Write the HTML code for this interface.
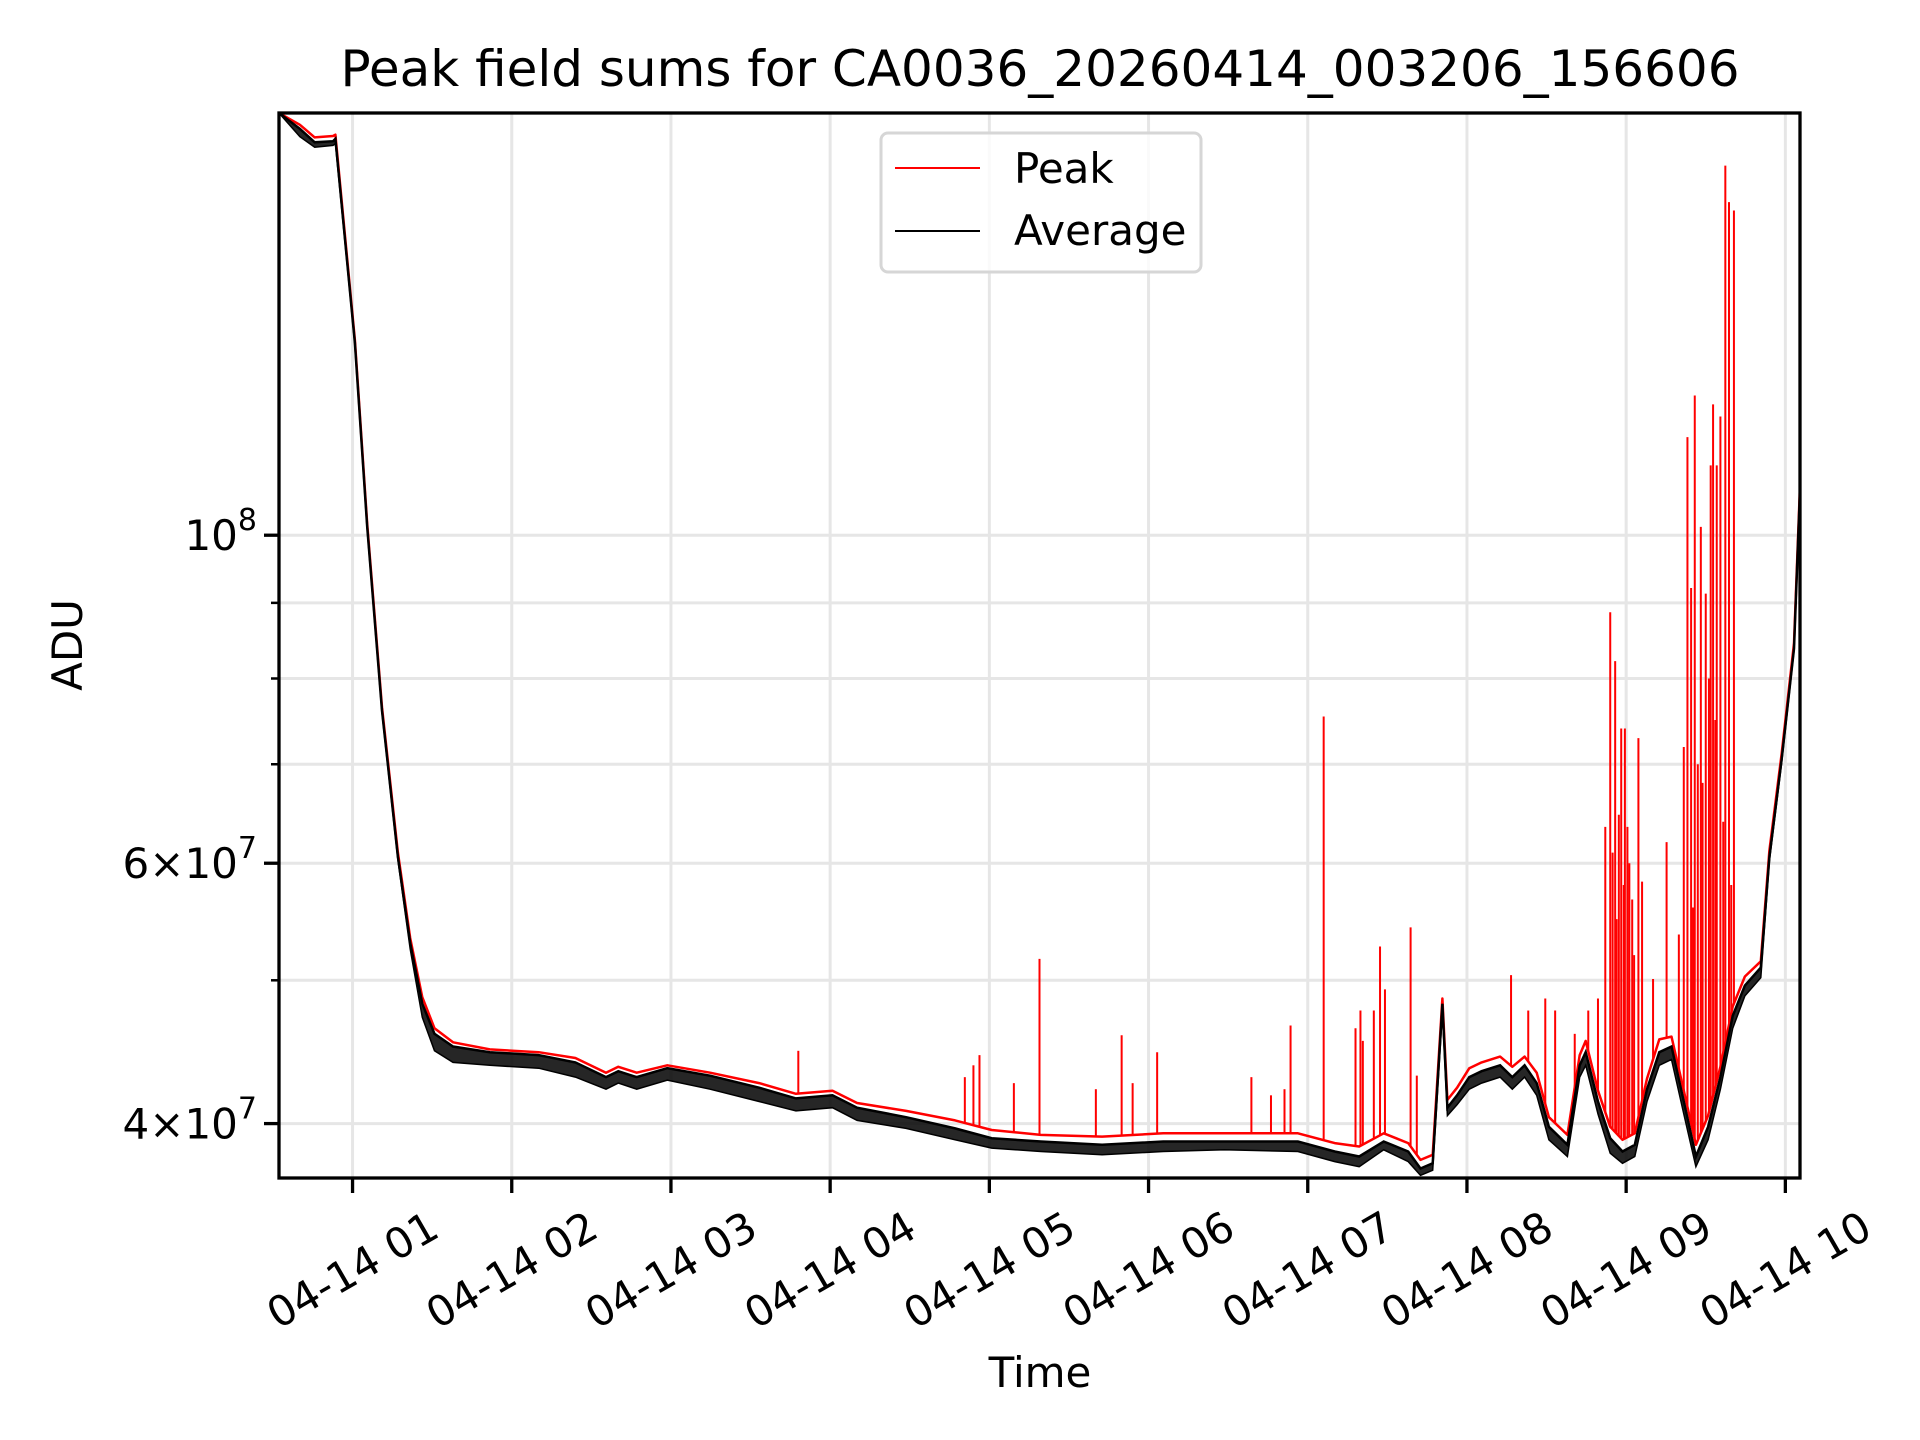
<!DOCTYPE html>
<html><head><meta charset="utf-8"><style>
html,body{margin:0;padding:0;background:#fff;}
svg{display:block;font-family:"DejaVu Sans","Liberation Sans",sans-serif;}
</style></head><body>
<svg id="chart" width="1920" height="1440" viewBox="0 0 1920 1440" xmlns="http://www.w3.org/2000/svg">
<rect x="0" y="0" width="1920" height="1440" fill="#fff"/>
<text x="1040" y="86" font-size="50" text-anchor="middle">Peak field sums for CA0036_20260414_003206_156606</text>
<g id="grid"></g>
<g id="series"></g>
<g id="axes"></g>
<text x="0" y="0" font-size="42" text-anchor="middle" transform="translate(82,645) rotate(-90)">ADU</text>
<text x="1040" y="1387" font-size="42" text-anchor="middle">Time</text>
<g>
<rect x="881" y="133" width="320" height="139" rx="7" fill="#fff" fill-opacity="0.8" stroke="#d6d6d6" stroke-width="3"/>
<line x1="895" y1="168" x2="980" y2="168" stroke="#f00" stroke-width="2"/>
<text x="1014" y="183" font-size="42">Peak</text>
<line x1="895" y1="231" x2="980" y2="231" stroke="#000" stroke-width="2"/>
<text x="1014" y="245" font-size="42">Average</text>
</g>
</svg>
<script>
// time in hours since 04-14 00:00, values in units of 1e7 ADU
const avgT = [0.538,0.669,0.762,0.877,0.892,1.015,1.092,1.185,1.285,1.362,1.438,1.515,1.631,1.862,2.169,2.400,2.592,2.669,2.785,2.977,3.246,3.554,3.785,4.015,4.169,4.477,4.785,5.015,5.323,5.708,6.092,6.477,6.938,7.169,7.323,7.477,7.631,7.708,7.785,7.846,7.877,7.938,8.015,8.092,8.208,8.285,8.362,8.438,8.515,8.631,8.708,8.746,8.823,8.900,8.977,9.054,9.131,9.208,9.285,9.362,9.438,9.515,9.592,9.669,9.746,9.846,9.900,9.977,10.054,10.092];
const avgV = [19.30,18.83,18.44,18.47,18.54,13.49,10.13,7.61,6.06,5.30,4.82,4.60,4.51,4.47,4.45,4.40,4.30,4.34,4.30,4.36,4.31,4.23,4.16,4.18,4.10,4.04,3.97,3.91,3.89,3.87,3.89,3.89,3.89,3.83,3.80,3.89,3.83,3.73,3.76,4.82,4.10,4.18,4.30,4.34,4.38,4.30,4.38,4.26,3.98,3.87,4.38,4.47,4.14,3.91,3.83,3.87,4.22,4.47,4.51,4.14,3.80,3.98,4.30,4.73,4.96,5.10,6.06,7.06,8.38,10.73];
const avgLowV = [19.30,18.60,18.30,18.35,18.40,13.45,10.10,7.58,6.03,5.25,4.72,4.48,4.40,4.38,4.36,4.30,4.22,4.26,4.22,4.28,4.22,4.14,4.08,4.10,4.02,3.97,3.90,3.85,3.83,3.81,3.83,3.84,3.83,3.77,3.74,3.84,3.77,3.69,3.72,4.76,4.05,4.12,4.22,4.26,4.30,4.22,4.30,4.18,3.90,3.80,4.30,4.38,4.06,3.82,3.76,3.80,4.14,4.38,4.42,4.06,3.74,3.90,4.22,4.64,4.88,5.02,6.02,7.02,8.35,10.70];
const peakV = [19.30,18.95,18.58,18.62,18.66,13.55,10.18,7.65,6.10,5.34,4.87,4.64,4.54,4.49,4.47,4.43,4.33,4.37,4.33,4.38,4.33,4.26,4.19,4.21,4.13,4.08,4.02,3.96,3.93,3.92,3.94,3.94,3.94,3.88,3.86,3.94,3.88,3.78,3.81,4.86,4.15,4.23,4.36,4.40,4.44,4.37,4.44,4.33,4.04,3.93,4.45,4.55,4.21,3.98,3.90,3.94,4.29,4.56,4.58,4.21,3.87,4.05,4.37,4.80,5.03,5.15,6.12,7.12,8.45,10.80];
const spikeT = [3.800,4.846,4.900,4.938,5.154,5.315,5.669,5.831,5.900,6.054,6.646,6.769,6.854,6.892,7.100,7.300,7.331,7.346,7.415,7.454,7.485,7.646,7.685,8.277,8.385,8.492,8.554,8.677,8.762,8.823,8.869,8.900,8.931,8.954,8.969,8.992,9.008,9.038,9.077,9.100,9.169,9.254,9.331,9.362,9.385,9.408,9.431,9.469,9.500,9.531,9.546,9.569,9.592,9.623,9.646,9.677,8.915,8.940,8.985,9.020,9.050,9.420,9.450,9.480,9.520,9.560,9.610,9.660];
const spikeV = [4.48,4.30,4.38,4.45,4.26,5.17,4.22,4.59,4.26,4.47,4.30,4.18,4.22,4.66,7.54,4.64,4.77,4.55,4.77,5.27,4.93,5.43,4.31,5.04,4.77,4.86,4.77,4.60,4.77,4.86,6.35,8.87,8.22,6.47,7.40,7.40,6.35,5.67,7.29,5.83,5.01,6.20,5.37,7.19,11.65,9.21,12.43,10.13,9.13,11.15,12.26,11.15,12.03,17.78,16.80,16.58,6.10,5.50,5.80,6.00,5.20,5.60,7.00,6.80,8.00,7.50,6.40,5.80];
const xTicks = [1,2,3,4,5,6,7,8,9,10];
const xTickLabels = ["04-14 01","04-14 02","04-14 03","04-14 04","04-14 05","04-14 06","04-14 07","04-14 08","04-14 09","04-14 10"];
const yMajor = [10, 6, 4];
const yMajorLabels = ["10|8","6|7","4|7"];
const yMinor = [9, 8, 7, 5];

const NS = "http://www.w3.org/2000/svg";
const L = 279, R = 1800, T = 113, B = 1178;
const T0 = 0.538, T1 = 10.092, V0 = 3.675, V1 = 19.3;
function xs(t){ return L + (t - T0) / (T1 - T0) * (R - L); }
function ys(v){ return T + (Math.log10(V1) - Math.log10(v)) / (Math.log10(V1) - Math.log10(V0)) * (B - T); }
function mk(tag, attrs, parent){ const e = document.createElementNS(NS, tag); for (const k in attrs) e.setAttribute(k, attrs[k]); parent.appendChild(e); return e; }
function interp(t){ for (let i = 1; i < avgT.length; i++){ if (t <= avgT[i]){ const f = (t - avgT[i-1]) / (avgT[i] - avgT[i-1]); return Math.exp(Math.log(peakV[i-1]) + f * (Math.log(peakV[i]) - Math.log(peakV[i-1]))); } } return peakV[peakV.length-1]; }

const grid = document.getElementById('grid'), series = document.getElementById('series'), axes = document.getElementById('axes');
xTicks.forEach((t, i) => {
  const x = xs(t);
  const g = mk('line', {x1:x, y1:T, x2:x, y2:B, stroke:'#e6e6e6', 'stroke-width':3}, grid);
  
  
  const tk = mk('line', {x1:x, y1:B, x2:x, y2:B+15, stroke:'#000', 'stroke-width':3.3}, axes);
  
  
  const lb = mk('text', {x:0, y:0, 'font-size':42, 'text-anchor':'middle', 'dominant-baseline':'central', transform:'translate(' + x + ',1270) rotate(-30)'}, axes);
  lb.textContent = xTickLabels[i];
  
  
});
yMinor.concat(yMajor).forEach(v => {
  const y = ys(v);
  const g = mk('line', {x1:L, y1:y, x2:R, y2:y, stroke:'#e6e6e6', 'stroke-width':3}, grid);
  
  
  const major = yMajor.indexOf(v) >= 0;
  const tk = mk('line', {x1:L - (major ? 15 : 8), y1:y, x2:L, y2:y, stroke:'#000', 'stroke-width': major ? 3.3 : 2.5}, axes);
  
  
});
yMajor.forEach((v, i) => {
  const y = ys(v);
  const parts = yMajorLabels[i].split('|');
  const lb = mk('text', {x:L-22, y:y+15, 'font-size':42, 'text-anchor':'end'}, axes);
  
  
  const base = parts[0] === '10' ? '10' : parts[0] + '\u00d710';
  const t1 = mk('tspan', {}, lb); t1.textContent = base;
  const t2 = mk('tspan', {'font-size':30, dy:-20}, lb); t2.textContent = parts[1];
});

let band = '';
avgT.forEach((t, i) => { band += (i ? 'L' : 'M') + xs(t).toFixed(1) + ',' + ys(avgV[i]).toFixed(1); });
for (let i = avgT.length - 1; i >= 0; i--) band += 'L' + xs(avgT[i]).toFixed(1) + ',' + ys(avgLowV[i]).toFixed(1);
band += 'Z';

let pd = '';
avgT.forEach((t, i) => { pd += (i ? 'L' : 'M') + xs(t).toFixed(1) + ',' + ys(peakV[i]).toFixed(1); });
const pl = mk('path', {d:pd, fill:'none', stroke:'#f00', 'stroke-width':2.5, 'stroke-linejoin':'round'}, series);


spikeT.forEach((t, i) => {
  const x = xs(t);
  const s = mk('line', {x1:x, y1:ys(interp(t)), x2:x, y2:ys(spikeV[i]), stroke:'#f00', 'stroke-width':2}, series);
  
  
});
const bd = mk('path', {d:band, fill:'#000', stroke:'#000', 'stroke-width':1.5, 'fill-opacity':0.85}, series);


let ad = '';
avgT.forEach((t, i) => { ad += (i ? 'L' : 'M') + xs(t).toFixed(1) + ',' + ys(avgV[i]).toFixed(1); });
const al = mk('path', {d:ad, fill:'none', stroke:'#000', 'stroke-width':2.5}, series);



const fr = mk('rect', {x:L, y:T, width:R-L, height:B-T, fill:'none', stroke:'#000', 'stroke-width':3.3}, axes);


</script>
</body></html>
